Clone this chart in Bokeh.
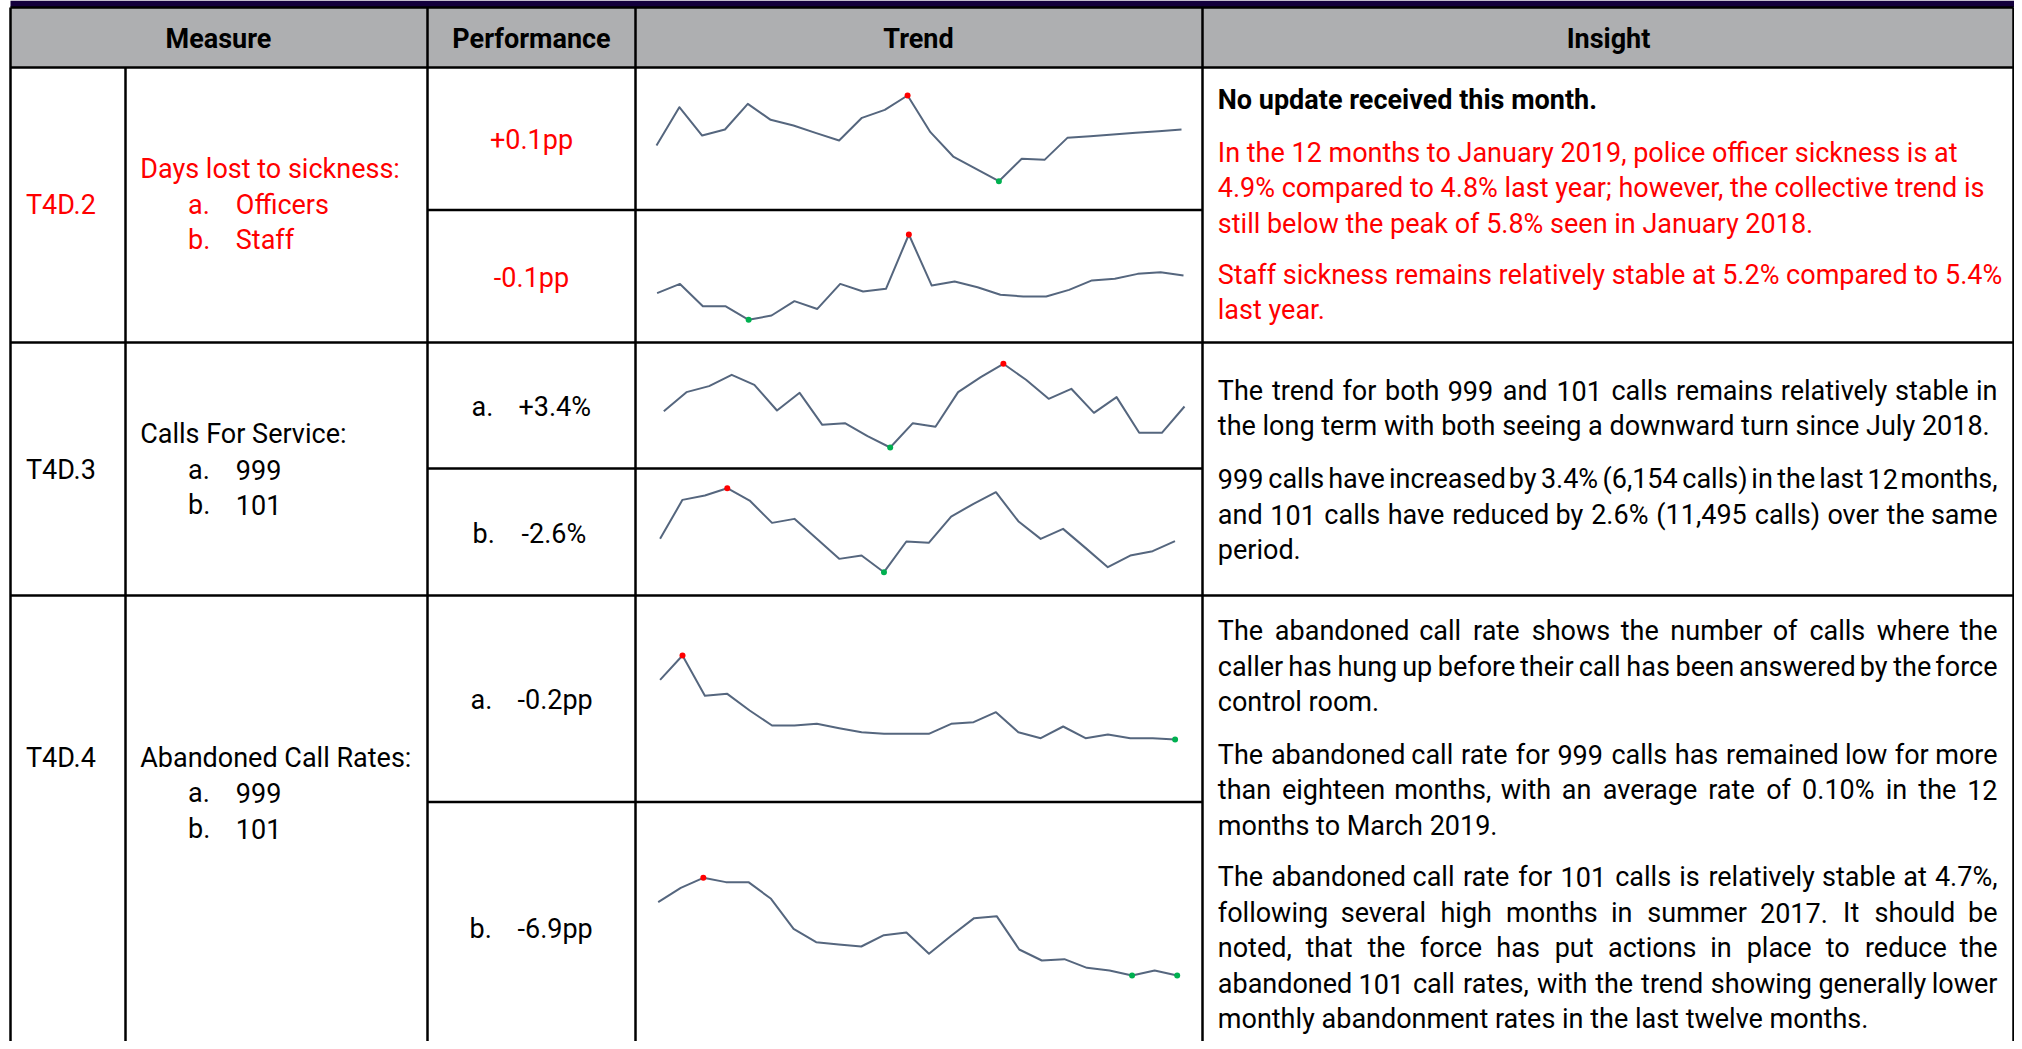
from bokeh.plotting import figure
from bokeh.models import Range1d, ColumnDataSource
from bokeh.embed import file_html
from bokeh.resources import INLINE
from bokeh.core.properties import value

# ---------------- data ----------------
months = list(range(24))  # 24 monthly points per sparkline

officers_sickness = [4.476, 5.491, 4.741, 4.900, 5.579, 5.156, 5.006, 4.803, 4.609, 5.209, 5.421, 5.800,
                     4.829, 4.185, 3.859, 3.532, 4.124, 4.097, 4.679, 4.724, 4.768, 4.812, 4.856, 4.900]
staff_sickness = [5.114, 5.159, 5.050, 5.050, 4.984, 5.005, 5.075, 5.037, 5.159, 5.122, 5.135, 5.400,
                  5.151, 5.171, 5.143, 5.106, 5.098, 5.098, 5.130, 5.176, 5.184, 5.208, 5.216, 5.200]
calls_999 = [15612, 16410, 16662, 17138, 16718, 15640, 16382, 15038, 15108, 14562, 14086, 15108,
             14954, 16410, 17040, 17600, 16928, 16130, 16550, 15542, 16200, 14702, 14702, 15808]
calls_101 = [36960, 39300, 39560, 40000, 39260, 37920, 38160, 36960, 35760, 35960, 34960, 36800,
             36720, 38300, 39060, 39760, 38020, 36960, 37560, 36420, 35260, 35960, 36220, 36820]
abandoned_999 = [0.3405, 0.4500, 0.2685, 0.2775, 0.2025, 0.1350, 0.1350, 0.1425, 0.1230, 0.1050, 0.0975, 0.0975,
                 0.0975, 0.1425, 0.1500, 0.1950, 0.1050, 0.0780, 0.1305, 0.0780, 0.0945, 0.0780, 0.0780, 0.0720]
abandoned_101 = [11.30, 12.59, 13.49, 13.10, 13.10, 11.60, 8.90, 7.70, 7.49, 7.31, 8.33, 8.57,
                 6.65, 8.30, 9.86, 10.04, 7.04, 6.05, 6.17, 5.39, 5.15, 4.70, 5.15, 4.70]

header_labels = ["Measure", "Performance", "Trend", "Insight"]
measure_codes = ["T4D.2", "T4D.3", "T4D.4"]
measure_titles = ["Days lost to sickness:", "Calls For Service:", "Abandoned Call Rates:"]
measure_items = [["Officers", "Staff"], ["999", "101"], ["999", "101"]]
item_letters = ["a.", "b."]
performance_row1 = ["+0.1pp", "-0.1pp"]
performance_row2 = ["+3.4%", "-2.6%"]
performance_row3 = ["-0.2pp", "-6.9pp"]

insight_1_bold = "No update received this month."
insight_1_red = [
    "In the 12 months to January 2019, police officer sickness is at",
    "4.9% compared to 4.8% last year; however, the collective trend is",
    "still below the peak of 5.8% seen in January 2018.",
    "Staff sickness remains relatively stable at 5.2% compared to 5.4%",
    "last year.",
]
insight_2 = [
    "The trend for both 999 and 101 calls remains relatively stable in",
    "the long term with both seeing a downward turn since July 2018.",
    "999 calls have increased by 3.4% (6,154 calls) in the last 12 months,",
    "and 101 calls have reduced by 2.6% (11,495 calls) over the same",
    "period.",
]
insight_3 = [
    "The abandoned call rate shows the number of calls where the",
    "caller has hung up before their call has been answered by the force",
    "control room.",
    "The abandoned call rate for 999 calls has remained low for more",
    "than eighteen months, with an average rate of 0.10% in the 12",
    "months to March 2019.",
    "The abandoned call rate for 101 calls is relatively stable at 4.7%,",
    "following several high months in summer 2017.  It should be",
    "noted, that the force has put actions in place to reduce the",
    "abandoned 101 call rates, with the trend showing generally lower",
    "monthly abandonment rates in the last twelve months.",
]
# which insight lines are justified (all but the last line of each paragraph)
insight_2_justified = [True, False, True, True, False]
insight_3_justified = [True, True, False, True, True, False, True, True, True, True, False]

# ---------------- layout / style ----------------
W, H = 2014, 1041
FONT = "Roboto"
FSZ = 27
FS = f"{FSZ}px"
RED = "#ff0000"
BLACK = "#000000"
LINE_COL = "#55667e"
TY = -8.5  # text anchor offset (baseline -> rendered centre)

p = figure(width=W, height=H, x_range=Range1d(0, W), y_range=Range1d(H, 0),
           output_backend="svg", toolbar_location=None, min_border=0,
           x_axis_location=None, y_axis_location=None)
p.grid.visible = False
p.outline_line_color = None
p.background_fill_color = "white"
p.border_fill_color = "white"

# table frame
L, R = 10, 2013
cols = [10, 125, 427, 635, 1202, 2013]
p.quad(left=[L], right=[2014], top=[0], bottom=[7], fill_color="#14003c", line_color=None)
p.quad(left=[L], right=[R], top=[7], bottom=[67], fill_color="#aeafb1", line_color=None)

h_full = [7, 67, 342, 595]
h_inner = [209.5, 468, 801.5]
seg = dict(x0=[], y0=[], x1=[], y1=[])
for y in h_full:
    seg["x0"].append(L); seg["x1"].append(R); seg["y0"].append(y); seg["y1"].append(y)
for y in h_inner:
    seg["x0"].append(427); seg["x1"].append(1202); seg["y0"].append(y); seg["y1"].append(y)
for x in cols:
    top = 67 if x == 125 else 7
    seg["x0"].append(x); seg["x1"].append(x); seg["y0"].append(top); seg["y1"].append(H + 5)
p.segment(x0="x0", y0="y0", x1="x1", y1="y1", source=ColumnDataSource(seg),
          line_color="black", line_width=2.5)


def txt(xs, ys, texts, color=BLACK, align="left", style="normal"):
    p.text(x=xs, y=[y + TY for y in ys], text=texts, text_font=value(FONT),
           text_font_size=value(FS), text_font_style=style, text_color=color,
           text_align=align, text_baseline="alphabetic")


# header text
txt([218, 531, 918, 1608], [47] * 4, header_labels, style="bold", align="center")

# measure codes & titles
code_y = [212.5, 477.5, 766]
code_col = [RED, BLACK, BLACK]
title_y = [177, 442, 766]
item_y = [[213, 248], [477.5, 513], [801, 837]]
for i in range(3):
    txt([25.4], [code_y[i]], [measure_codes[i]], code_col[i])
    txt([139.7], [title_y[i]], [measure_titles[i]], code_col[i])
    txt([187.5, 187.5], item_y[i], item_letters, code_col[i])
    txt([235.3, 235.3], item_y[i], measure_items[i], code_col[i])

# performance column
txt([531, 531], [148, 286], performance_row1, RED, align="center")
txt([471, 472], [415, 541.7], item_letters)
txt([518, 521], [415, 541.7], performance_row2)
txt([470, 469], [708, 936.7], item_letters)
txt([517, 517], [708, 936.7], performance_row3)

# insight column
IX, IR = 1217.3, 1997
txt([IX], [108], [insight_1_bold], style="bold")
txt([IX] * 5, [161, 196, 231.7, 283.3, 318.3], insight_1_red, RED)

# approximate advance widths (units of 1/2048 em) for justified text
ADV = {" ": 507, "%": 1466, "(": 684, ")": 696, ",": 393, "-": 553, ".": 527, ":": 484, ";": 434,
       "A": 1336, "B": 1275, "C": 1333, "D": 1343, "E": 1163, "F": 1132, "G": 1394, "H": 1461,
       "I": 557, "J": 1131, "K": 1283, "L": 1102, "M": 1788, "N": 1461, "O": 1409, "P": 1292,
       "Q": 1409, "R": 1260, "S": 1216, "T": 1221, "U": 1328, "V": 1303, "W": 1817, "X": 1283,
       "Y": 1229, "Z": 1226, "a": 1114, "b": 1120, "c": 1045, "d": 1125, "e": 1058, "f": 693,
       "g": 1120, "h": 1100, "i": 486, "j": 476, "k": 1014, "l": 486, "m": 1754, "n": 1102,
       "o": 1141, "p": 1120, "q": 1126, "r": 677, "s": 1031, "t": 653, "u": 1102, "v": 968,
       "w": 1503, "x": 990, "y": 945, "z": 990}


def word_w(w, size):
    return sum(ADV.get(c, 1150) for c in w) / 2048.0 * size


def paragraph(lines, ys, justified):
    d = dict(x=[], y=[], t=[], a=[], fs=[])
    for line, y, jus in zip(lines, ys, justified):
        if not jus:
            d["x"].append(IX); d["y"].append(y + TY); d["t"].append(line)
            d["a"].append("left"); d["fs"].append(FS)
            continue
        words = line.split()
        size = FSZ
        total = sum(word_w(w, size) for w in words)
        min_gap = 3.0
        if total + min_gap * (len(words) - 1) > IR - IX:
            size = size * (IR - IX - min_gap * (len(words) - 1)) / total
            total = sum(word_w(w, size) for w in words)
        gap = (IR - IX - total) / (len(words) - 1)
        x = IX
        for k, w in enumerate(words):
            last = k == len(words) - 1
            d["x"].append(IR if last else x)
            d["y"].append(y + TY)
            d["t"].append(w)
            d["a"].append("right" if last else "left")
            d["fs"].append(f"{size:.2f}px")
            x += word_w(w, size) + gap
    p.text(x="x", y="y", text="t", text_align="a", text_font_size="fs",
           source=ColumnDataSource(d), text_font=value(FONT), text_color=BLACK,
           text_baseline="alphabetic")


paragraph(insight_2, [399, 434, 486.5, 522.5, 558], insight_2_justified)
paragraph(insight_3, [639, 675, 710, 762.5, 798, 833.5, 885, 921, 956, 991.5, 1027],
          insight_3_justified)

# sparklines: each placed in its cell through its own x/y ranges
# (pixel box: first x, last x, y of max, y of min)
spark_series = [officers_sickness, staff_sickness, calls_999, calls_101, abandoned_999, abandoned_101]
spark_boxes = [(656, 1181, 95, 180.7), (656.6, 1183, 234, 319.3), (663.3, 1184, 363.3, 447),
               (659.6, 1174.5, 487.7, 571.7), (659.6, 1174.6, 655, 739), (657.7, 1176.7, 877.3, 975)]

for i, (vals, box) in enumerate(zip(spark_series, spark_boxes)):
    x0, x1, pmax, pmin = box
    n = len(vals)
    dx = (x1 - x0) / (n - 1)
    xs_name, ys_name = f"sx{i}", f"sy{i}"
    p.extra_x_ranges[xs_name] = Range1d(-x0 / dx, (W - x0) / dx)
    vmax, vmin = max(vals), min(vals)
    k = (pmin - pmax) / (vmax - vmin)
    end = vmax + pmax / k
    start = end - H / k
    p.extra_y_ranges[ys_name] = Range1d(start, end)
    src = ColumnDataSource(dict(m=months[:n], v=vals))
    p.line("m", "v", source=src, x_range_name=xs_name, y_range_name=ys_name,
           line_color=LINE_COL, line_width=2.0, line_join="round")
    hi = [j for j, v in enumerate(vals) if v == vmax]
    lo = [j for j, v in enumerate(vals) if v == vmin]
    p.scatter([months[j] for j in hi], [vals[j] for j in hi], x_range_name=xs_name,
              y_range_name=ys_name, size=6, fill_color=RED, line_color=None)
    p.scatter([months[j] for j in lo], [vals[j] for j in lo], x_range_name=xs_name,
              y_range_name=ys_name, size=6, fill_color="#00b050", line_color=None)

open("out.html", "w").write(file_html(p, INLINE))
